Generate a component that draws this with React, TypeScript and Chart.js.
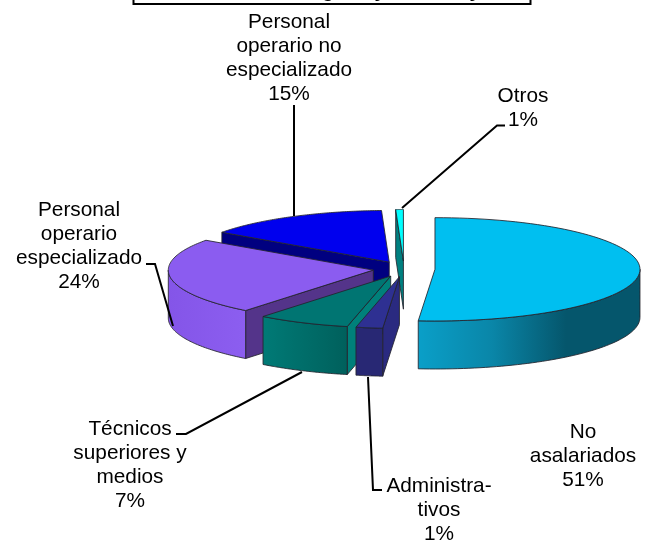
import React, { useEffect, useRef } from "react";
import { Chart, registerables } from "chart.js";

Chart.register(...registerables);

const categories = [
  "No asalariados",
  "Administrativos",
  "Técnicos superiores y medios",
  "Personal operario especializado",
  "Personal operario no especializado",
  "Otros",
];
// Slice sizes as drawn in the picture (%)
const sliceValues = [51.3, 2.1, 7.3, 24.1, 14.6, 0.6];
const topColors = ["#00BFF0", "#2E3092", "#007572", "#8B5CF0", "#0000EE", "#00FFFF"];
const radialWallColors = ["#0A9CC4", "#2A2A80", "#00807A", "#54348A", "#000080", "#008080"];
const outerWallStops: string[][] = [
  ["#0A9FC8", "#0A86A8", "#05566C", "#05566C"],
  ["#282874", "#282874"],
  ["#007A76", "#00605C"],
  ["#8455E8", "#8C5EF0"],
  ["#000080", "#000080"],
  ["#008080", "#008080"],
];

const labelBlocks = [
  { lines: ["Personal", "operario no", "especializado", "15%"], x: 289, y: 22 },
  { lines: ["Otros", "1%"], x: 523, y: 96 },
  { lines: ["Personal", "operario", "especializado", "24%"], x: 79, y: 210 },
  { lines: ["Técnicos", "superiores y", "medios", "7%"], x: 130, y: 429 },
  { lines: ["Administra-", "tivos", "1%"], x: 439, y: 486 },
  { lines: ["No", "asalariados", "51%"], x: 583, y: 432 },
];
const leaderLines = [
  [[294, 105], [294, 216]],
  [[505, 125.5], [497, 125.5], [402, 208]],
  [[146, 264], [155, 264], [173, 326]],
  [[176, 434], [186, 434], [302, 372]],
  [[382, 490], [373, 490], [368, 377]],
];
const titleMarks = [
  { ch: "g", x: 328 },
  { ch: "y", x: 380 },
  { ch: "y", x: 475 },
];

const SQUASH = 0.252;
const DEPTH = 48;
const EXPLODE = 31;
const EDGE = "rgba(35,35,45,0.85)";

function geometry(arcs: any[], cx: number, cy: number) {
  const list = arcs.map((el, i) => {
    const mid = (el.startAngle + el.endAngle) / 2;
    const dx = Math.cos(mid) * EXPLODE;
    const dy = Math.sin(mid) * EXPLODE;
    const ox = cx + dx;
    const r = el.outerRadius;
    const ay = cy + dy * SQUASH;
    return {
      el,
      i,
      a0: el.startAngle,
      a1: el.endAngle,
      dx,
      dy,
      ax: ox,
      ay,
      pt: (a: number) => [ox + r * Math.cos(a), ay + r * SQUASH * Math.sin(a)],
    };
  });
  return list.sort((p, q) => p.ay - q.ay);
}

const pie3d = {
  id: "pie3d",
  beforeDatasetsDraw(chart: any) {
    const ctx = chart.ctx as CanvasRenderingContext2D;
    const arcs = chart.getDatasetMeta(0).data as any[];
    const cx = arcs[0].x;
    const cy = arcs[0].y;
    const geo = geometry(arcs, cx, cy);
    ctx.save();
    ctx.lineWidth = 1;
    ctx.strokeStyle = EDGE;
    ctx.lineJoin = "round";
    for (const g of geo) {
      const pt = g.pt;
      // radial wall at the start edge
      if (Math.cos(g.a0) < 0) {
        const rim = pt(g.a0);
        ctx.beginPath();
        ctx.moveTo(g.ax, g.ay);
        ctx.lineTo(rim[0], rim[1]);
        ctx.lineTo(rim[0], rim[1] + DEPTH);
        ctx.lineTo(g.ax, g.ay + DEPTH);
        ctx.closePath();
        ctx.fillStyle = radialWallColors[g.i];
        ctx.fill();
        ctx.stroke();
      }
      // outer wall: the part of the rim on the viewer's side
      const from = Math.max(g.a0, 0);
      const to = Math.min(g.a1, Math.PI);
      if (to > from) {
        const pts: number[][] = [];
        for (let s = 0; s <= 60; s++) pts.push(pt(from + ((to - from) * s) / 60));
        const xs = pts.map((p) => p[0]);
        const grad = ctx.createLinearGradient(Math.min(...xs), 0, Math.max(...xs), 0);
        const stops = outerWallStops[g.i];
        stops.forEach((c, k) => grad.addColorStop(k / (stops.length - 1), c));
        ctx.beginPath();
        pts.forEach((p, k) => (k ? ctx.lineTo(p[0], p[1]) : ctx.moveTo(p[0], p[1])));
        for (let k = pts.length - 1; k >= 0; k--) ctx.lineTo(pts[k][0], pts[k][1] + DEPTH);
        ctx.closePath();
        ctx.fillStyle = grad;
        ctx.fill();
        ctx.stroke();
      }
      // top face: the library's own arc, exploded and seen at an angle
      ctx.save();
      ctx.translate(cx + g.dx, cy + g.dy * SQUASH);
      ctx.scale(1, SQUASH);
      ctx.translate(-cx, -cy);
      g.el.draw(ctx);
      ctx.restore();
      // outline of the top face
      ctx.beginPath();
      ctx.moveTo(g.ax, g.ay);
      for (let s = 0; s <= 80; s++) {
        const p = pt(g.a0 + ((g.a1 - g.a0) * s) / 80);
        ctx.lineTo(p[0], p[1]);
      }
      ctx.closePath();
      ctx.stroke();
    }
    ctx.strokeStyle = "#000";
    ctx.lineWidth = 2;
    ctx.lineJoin = "miter";
    for (const line of leaderLines) {
      ctx.beginPath();
      line.forEach((p, k) => (k ? ctx.lineTo(p[0], p[1]) : ctx.moveTo(p[0], p[1])));
      ctx.stroke();
    }
    // text
    ctx.fillStyle = "#000";
    ctx.font = '20.8px "Liberation Sans", Arial, sans-serif';
    ctx.textAlign = "center";
    ctx.textBaseline = "middle";
    for (const b of labelBlocks) {
      b.lines.forEach((t, k) => ctx.fillText(t, b.x, b.y + k * 24));
    }
    // clipped title box: only its lower edge is on the page
    ctx.font = 'bold 20px "Liberation Sans", Arial, sans-serif';
    ctx.textBaseline = "alphabetic";
    for (const m of titleMarks) ctx.fillText(m.ch, m.x, -3);
    ctx.strokeStyle = "#000";
    ctx.lineWidth = 2;
    ctx.beginPath();
    ctx.moveTo(133.5, 0);
    ctx.lineTo(133.5, 4);
    ctx.lineTo(530.5, 4);
    ctx.lineTo(530.5, 0);
    ctx.stroke();
    ctx.restore();
    return false;
  },
};

export default function App() {
  const ref = useRef<HTMLCanvasElement>(null);
  useEffect(() => {
    const chart = new Chart(ref.current!, {
      type: "pie",
      data: {
        labels: categories,
        datasets: [
          {
            data: sliceValues,
            backgroundColor: topColors,
            borderWidth: 0,
            clip: false,
          } as any,
        ],
      },
      options: {
        responsive: false,
        animation: false,
        radius: 205,
        layout: { padding: { left: 152, bottom: 6 } },
        plugins: { legend: { display: false }, tooltip: { enabled: false } },
      } as any,
      plugins: [pie3d],
    });
    return () => chart.destroy();
  }, []);
  return (
    <div style={{ position: "absolute", left: 0, top: 0, width: 656, height: 544, background: "#fff" }}>
      <canvas ref={ref} width={656} height={544} style={{ display: "block" }} />
    </div>
  );
}
